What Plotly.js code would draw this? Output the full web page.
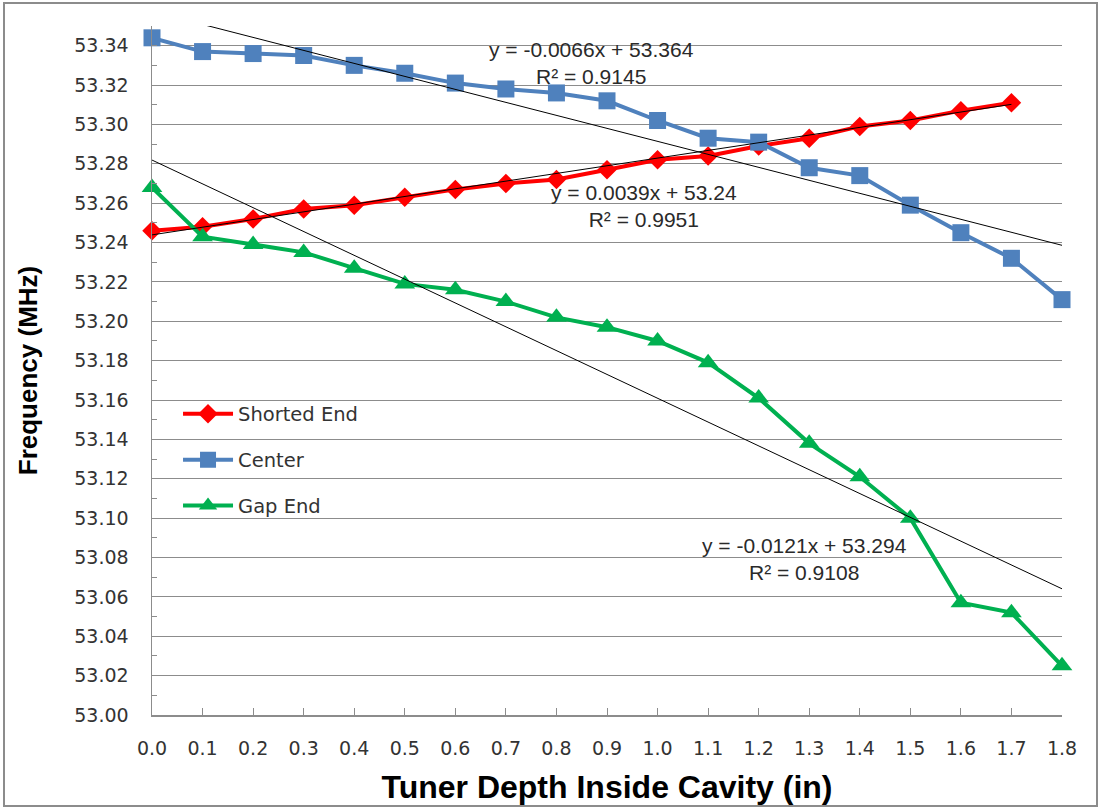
<!DOCTYPE html>
<html>
<head>
<meta charset="utf-8">
<script src="https://cdn.plot.ly/plotly-3.0.1.min.js"></script>
<style>
  html, body { margin: 0; padding: 0; background: #ffffff; }
  #wrap { position: relative; width: 1099px; height: 807px; }
  #chart { position: absolute; left: 0; top: 0; width: 1099px; height: 807px; }
  #frame { position: absolute; left: 3px; top: 2px; width: 1091px; height: 801px;
           border: 2px solid #8c8c8c; pointer-events: none; }
</style>
</head>
<body>
<div id="wrap">
  <div id="chart"></div>
  <div id="frame"></div>
</div>
<script>
// ---- data ----
const depth = [0.0, 0.1, 0.2, 0.3, 0.4, 0.5, 0.6, 0.7, 0.8, 0.9, 1.0, 1.1, 1.2, 1.3, 1.4, 1.5, 1.6, 1.7, 1.8];
const depthShorted = [0.0, 0.1, 0.2, 0.3, 0.4, 0.5, 0.6, 0.7, 0.8, 0.9, 1.0, 1.1, 1.2, 1.3, 1.4, 1.5, 1.6, 1.7];

const shortedEnd = [53.246, 53.248, 53.252, 53.257, 53.259, 53.263, 53.267, 53.270, 53.272, 53.277,
                    53.282, 53.284, 53.289, 53.293, 53.299, 53.302, 53.307, 53.311];
const center = [53.344, 53.337, 53.336, 53.335, 53.330, 53.326, 53.321, 53.318, 53.316, 53.312,
                53.302, 53.293, 53.291, 53.278, 53.274, 53.259, 53.245, 53.232, 53.211];
const gapEnd = [53.268, 53.243, 53.239, 53.235, 53.227, 53.219, 53.216, 53.210, 53.202, 53.197,
                53.190, 53.179, 53.161, 53.138, 53.121, 53.100, 53.057, 53.052, 53.025];

const seriesNames = ["Shorted End", "Center", "Gap End"];
const seriesColors = ["#ff0000", "#4f81bd", "#00b050"];

// linear trendlines as shown on the chart (x = point number 1..n)
const trendSlopes = [0.0039, -0.0066, -0.0121];
const trendIntercepts = [53.24, 53.364, 53.294];
const trendR2 = [0.9951, 0.9145, 0.9108];

const yTickVals = [53.00, 53.02, 53.04, 53.06, 53.08, 53.10, 53.12, 53.14, 53.16, 53.18,
                   53.20, 53.22, 53.24, 53.26, 53.28, 53.30, 53.32, 53.34];
const xTickVals = depth;

// ---- build traces ----
const seriesX = [depthShorted, depth, depth];
const seriesY = [shortedEnd, center, gapEnd];
const symbols = ["diamond", "square", "triangle-up"];
const msizes = [15, 17, 18];

const traces = [];
for (let i = 0; i < 3; i++) {
  traces.push({
    type: "scatter", mode: "lines+markers",
    name: seriesNames[i], legendgroup: "g" + i,
    x: seriesX[i], y: seriesY[i], cliponaxis: false,
    line: { color: seriesColors[i], width: 4 },
    marker: { symbol: symbols[i], size: msizes[i], color: seriesColors[i] }
  });
}
for (let i = 0; i < 3; i++) {
  const xs = seriesX[i];
  const n = xs.length;
  const tx = [xs[0], xs[n - 1]];
  const ty = [trendIntercepts[i] + trendSlopes[i] * 1, trendIntercepts[i] + trendSlopes[i] * n];
  traces.push({
    type: "scatter", mode: "lines", x: tx, y: ty, showlegend: false, hoverinfo: "skip",
    line: { color: "#000000", width: 1 }
  });
}

function fmtEq(i) {
  const s = trendSlopes[i];
  const sign = s < 0 ? "-" : "";
  return "y = " + sign + Math.abs(s).toFixed(4) + "x + " + trendIntercepts[i] + "<br>R² = " + trendR2[i].toFixed(4);
}

const annFont = { family: "Liberation Sans, Arial, sans-serif", size: 21, color: "#2a2a2a" };
const annotations = [
  { x: 0.87, y: 53.331, idx: 1 },
  { x: 0.973, y: 53.2588, idx: 0 },
  { x: 1.2915, y: 53.0795, idx: 2 }
].map(a => ({
  x: a.x, y: a.y, xref: "x", yref: "y", text: fmtEq(a.idx), showarrow: false,
  font: annFont, align: "center", xanchor: "center", yanchor: "middle"
}));

const tickFont = { family: "DejaVu Sans, Verdana, sans-serif", size: 19, color: "#333333" };

const layout = {
  width: 1099, height: 807,
  paper_bgcolor: "rgba(0,0,0,0)", plot_bgcolor: "#ffffff",
  margin: { l: 152, r: 37, t: 26, b: 91.5 },
  showlegend: true,
  legend: {
    x: 0.0286, y: 0.465, xanchor: "left", yanchor: "top",
    bgcolor: "rgba(0,0,0,0)", borderwidth: 0,
    font: { family: "DejaVu Sans, Verdana, sans-serif", size: 19.5, color: "#333333" },
    tracegroupgap: 17.5, itemwidth: 50
  },
  xaxis: {
    range: [0, 1.8], tickvals: xTickVals, ticktext: xTickVals.map(v => v.toFixed(1)),
    ticks: "inside", ticklen: 7, tickcolor: "#8c8c8c", tickwidth: 1,
    showgrid: false, zeroline: false,
    showline: true, linecolor: "#8c8c8c", linewidth: 1.5,
    tickfont: tickFont, ticklabelstandoff: 16,
    title: { text: "Tuner Depth Inside Cavity (in)", standoff: 17,
             font: { family: "Liberation Sans, Arial, sans-serif", size: 32, color: "#000000", weight: "bold" } },
    automargin: false
  },
  yaxis: {
    range: [53.00, 53.35], tickvals: yTickVals, ticktext: yTickVals.map(v => v.toFixed(2)),
    ticks: "inside", ticklen: 5, tickcolor: "#8c8c8c",
    minor: { dtick: 0.01, tick0: 53.0, ticks: "inside", ticklen: 5, tickcolor: "#8c8c8c", showgrid: false },
    showgrid: true, gridcolor: "#8c8c8c", gridwidth: 1,
    zeroline: false, showline: true, linecolor: "#8c8c8c", linewidth: 1.5,
    tickfont: tickFont, ticklabelstandoff: 18,
    title: { text: "Frequency (MHz)", standoff: 29,
             font: { family: "Liberation Sans, Arial, sans-serif", size: 26, color: "#000000", weight: "bold" } },
    automargin: false
  },
  annotations: annotations
};

Plotly.newPlot("chart", traces, layout, { displayModeBar: false, staticPlot: true });
</script>
</body>
</html>
